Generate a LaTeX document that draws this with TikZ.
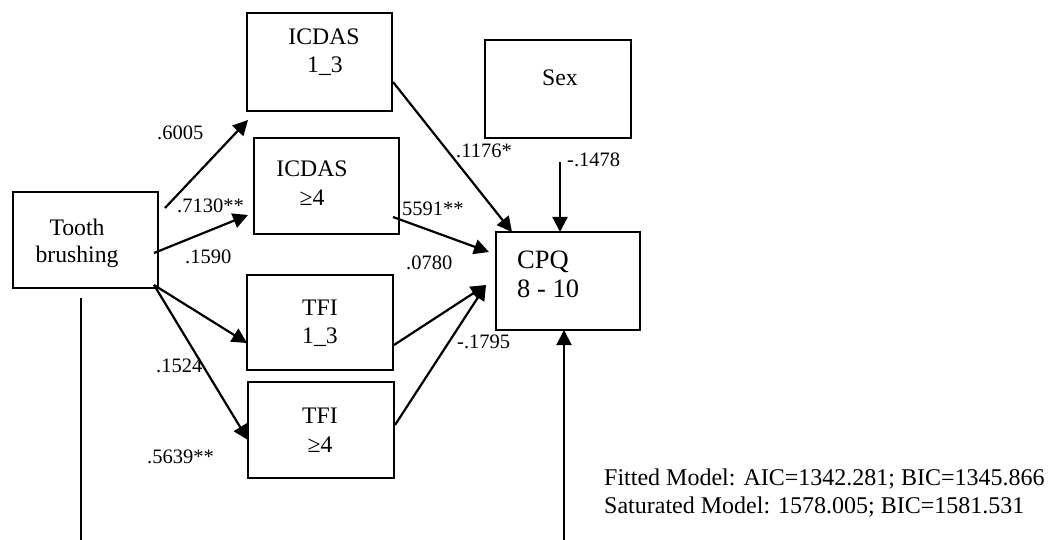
\documentclass[tikz,border=0pt]{standalone}
\usepackage{fontspec}
\setmainfont{Liberation Serif}
\usetikzlibrary{arrows.meta,calc}

\begin{document}
\begin{tikzpicture}[x=1pt,y=-1pt,
  box/.style={draw,line width=2.6pt,inner sep=0pt,outer sep=0pt},
  boxtxt/.style={anchor=base,inner sep=0pt,font=\fontsize{23.7}{28}\selectfont},
  cpqtxt/.style={anchor=base west,inner sep=0pt,font=\fontsize{26.5}{30}\selectfont},
  coef/.style={anchor=base west,inner sep=0pt,font=\fontsize{20.5}{24}\selectfont},
  stat/.style={anchor=base west,inner sep=0pt,font=\fontsize{24}{28}\selectfont},
  link/.style={line width=2.2pt,-{Triangle[length=15pt,width=15pt]}},
  direct/.style={line width=2pt,-{Triangle[length=15pt,width=15pt]}},
]
\useasboundingbox (0,0) rectangle (1057,540);

% variable boxes
\node[box,minimum width=145pt,minimum height=96pt] (tb)  at (85.5,240) {};
\node[box,minimum width=145pt,minimum height=98pt] (i13) at (319.5,62) {};
\node[box,minimum width=145pt,minimum height=96pt] (i4)  at (326.5,186) {};
\node[box,minimum width=146pt,minimum height=95pt] (t13) at (320,322.5) {};
\node[box,minimum width=146pt,minimum height=96pt] (t4)  at (321,430) {};
\node[box,minimum width=146pt,minimum height=98pt] (sex) at (558,89) {};
\node[box,minimum width=144pt,minimum height=98pt] (cpq) at (568,281) {};

% box texts
\node[boxtxt] (tbA) at (77,235) {Tooth};
\node[boxtxt] (tbB) at (77,262) {brushing};
\node[boxtxt] (i13A) at (324,45) {ICDAS};
\node[boxtxt] (i13B) at (325,73) {1\_3};
\node[boxtxt] (i4A) at (312,177) {ICDAS};
\node[boxtxt] (i4B) at (312,205) {≥4};
\node[boxtxt] (t13A) at (320,315) {TFI};
\node[boxtxt] (t13B) at (320,343) {1\_3};
\node[boxtxt] (t4A) at (320,423) {TFI};
\node[boxtxt] (t4B) at (320,452) {≥4};
\node[boxtxt] (sexA) at (560,86) {Sex};
\node[cpqtxt] (cpqA) at (517,268) {CPQ};
\node[cpqtxt] (cpqB) at (517,297) {8 - 10};

% paths
\draw[link] ([shift={(7,16)}]tb.north east) -- ([shift={(1,9)}]i13.south west);
\draw[link] ([shift={(-4,13)}]tb.east) -- ([shift={(-6,29)}]i4.west);
\draw[link] ([shift={(-4,-3)}]tb.south east) -- ([shift={(0,20.5)}]t13.west);
\draw[link] ([shift={(-4,-3)}]tb.south east) -- ([shift={(0,10)}]t4.west);
\draw[link] ([shift={(1,20)}]i13.east) -- ([shift={(16,0)}]cpq.north west);
\draw[link] ([shift={(-6,-17)}]i4.south east) -- ([shift={(-7,-29)}]cpq.west);
\draw[link] ([shift={(1,22.5)}]t13.east) -- ([shift={(-10,4)}]cpq.west);
\draw[link] ([shift={(1,-5)}]t4.east) -- ([shift={(-10,4)}]cpq.west);
\draw[link] ([shift={(2,24)}]sex.south) -- ([shift={(-8,0)}]cpq.north);
\draw[direct] ([shift={(-4.5,10)}]tb.south) |- (0,540.5) -| ([shift={(-4,0)}]cpq.south);

% path coefficients
\node[coef] (c1) at (157,140) {.6005};
\node[coef] (c2) at (177,212) {.7130**};
\node[coef] (c3) at (185,263) {.1590};
\node[coef] (c4) at (156,372) {.1524};
\node[coef] (c5) at (147,463) {.5639**};
\node[coef] (c6) at (456,158) {.1176*};
\node[coef] (c7) at (567,167) {-.1478};
\node[coef] (c8) at (402,215) {5591**};
\node[coef] (c9) at (406,269) {.0780};
\node[coef] (c10) at (457,348) {-.1795};

% model fit
\node[stat] (fit) at (604,485) {Fitted Model: AIC=1342.281; BIC=1345.866};
\node[stat] (sat) at (604,513) {Saturated Model: 1578.005; BIC=1581.531};
\end{tikzpicture}
\end{document}
